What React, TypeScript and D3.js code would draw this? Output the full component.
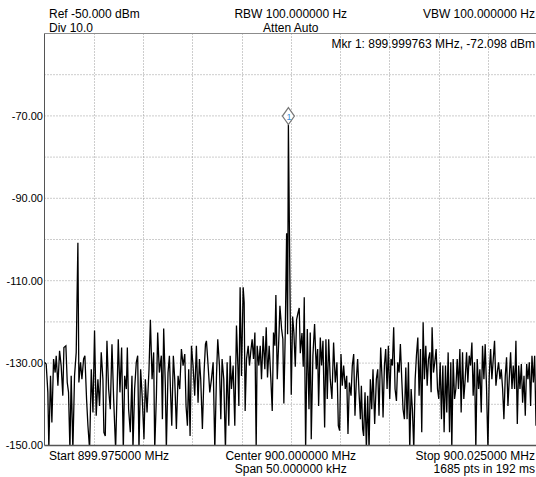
import React, { useEffect, useRef } from 'react';
import * as d3 from 'd3';

// span: 899.975 .. 900.025 MHz, trace positions are kHz from start
const spanKHz = [0, 50];
const levelRange = [-150, -50];
const gridLevels = [-140, -130, -120, -110, -100, -90, -80, -70, -60];
const gridFreqs = [5, 10, 15, 20, 25, 30, 35, 40, 45];
const yLabels = [-70, -90, -110, -130, -150];

const headerTexts = ['Ref -50.000 dBm', 'Div 10.0', 'RBW 100.000000 Hz', 'Atten Auto', 'VBW 100.000000 Hz'];
const footerTexts = ['Start 899.975000 MHz', 'Center 900.000000 MHz', 'Span 50.000000 kHz', 'Stop 900.025000 MHz', '1685 pts in 192 ms'];
const markerLabel = 'Mkr 1: 899.999763 MHz, -72.098 dBm';
const markerKHz = 24.763;
const markerDbm = -72.098;

// [kHz, dBm]
const lowerTrace = [
  [0, -129.8], [0.17, -130.2], [0.34, -137.1], [0.44, -150.5], [0.61, -133.1], [0.75, -144.4], [0.92, -129.0], [1.08, -132.3],
  [1.19, -128.2], [1.36, -135.5], [1.53, -127.0], [1.69, -130.6], [1.86, -137.9], [1.97, -126.2], [2.17, -125.8], [2.31, -134.7],
  [2.44, -137.1], [2.58, -151], [2.71, -133.1], [2.88, -151], [3.05, -133.1], [3.22, -127.4], [3.39, -100.8], [3.49, -134.7],
  [3.66, -129.8], [3.80, -133.9], [3.97, -129.0], [4.10, -128.2], [4.27, -138.7], [4.41, -145.2], [4.58, -151], [4.75, -131.5],
  [4.92, -142.0], [5.08, -122.1], [5.25, -142.8], [5.42, -133.9], [5.59, -140.4], [5.76, -127.4], [5.93, -133.9], [6.03, -146.8],
  [6.17, -147.7], [6.34, -124.6], [6.51, -136.3], [6.68, -141.2], [6.85, -125.4], [7.02, -138.7], [7.22, -151], [7.39, -134.7],
  [7.49, -124.2], [7.66, -137.1], [7.83, -126.2], [8.00, -151], [8.14, -133.1], [8.31, -136.3], [8.41, -126.2], [8.54, -141.2],
  [8.71, -146.8], [8.88, -133.1], [8.98, -151], [9.15, -136.3], [9.32, -129.8], [9.46, -128.2], [9.59, -151], [9.76, -131.5],
  [9.93, -138.7], [10.10, -148.5], [10.24, -133.9], [10.41, -142.0], [10.61, -131.5], [10.75, -119.5], [10.92, -133.9], [11.08, -127.4],
  [11.19, -151], [11.36, -137.9], [11.49, -122.6], [11.66, -132.3], [11.86, -128.2], [11.97, -143.6], [12.10, -121.6], [12.27, -135.5],
  [12.37, -151], [12.54, -132.3], [12.68, -128.2], [12.81, -137.9], [12.92, -145.2], [13.08, -128.2], [13.22, -133.9], [13.39, -146.0],
  [13.56, -133.1], [13.73, -136.3], [13.90, -126.6], [14.07, -130.6], [14.24, -127.8], [14.37, -140.4], [14.51, -145.2], [14.64, -131.5],
  [14.78, -147.7], [14.92, -125.8], [15.08, -130.6], [15.25, -137.9], [15.42, -125.8], [15.59, -139.6], [15.73, -129.0], [15.86, -133.9],
  [16.03, -146.0], [16.20, -132.3], [16.34, -125.4], [16.44, -124.6], [16.61, -130.6], [16.78, -137.1], [16.95, -133.9], [17.12, -129.8],
  [17.29, -151], [17.46, -133.1], [17.59, -124.2], [17.76, -130.6], [17.90, -143.6], [18.03, -129.0], [18.20, -133.9], [18.37, -151],
  [18.54, -129.8], [18.71, -145.2], [18.85, -128.2], [18.98, -136.3], [19.15, -130.6], [19.32, -145.2], [19.49, -120.9], [19.63, -130.6],
  [19.73, -140.4], [19.86, -111.6], [20.00, -133.1], [20.17, -111.6], [20.27, -115.3], [20.37, -141.6], [20.51, -129.0], [20.68, -125.8],
  [20.81, -130.6], [20.95, -127.0], [21.08, -124.2], [21.22, -129.0], [21.36, -122.6], [21.49, -151], [21.59, -125.8], [21.76, -130.6],
  [21.90, -125.8], [22.03, -133.9], [22.20, -123.4], [22.37, -131.5], [22.51, -121.3], [22.64, -133.5], [22.81, -125.8], [22.98, -133.9],
  [23.12, -141.6], [23.25, -122.6], [23.39, -125.8], [23.49, -113.5], [23.63, -133.9], [23.80, -123.4], [23.90, -116.1], [24.07, -121.7],
  [24.20, -124.2],
];

const carrierTrace = [
  [24.30, -139.8], [24.44, -122.8], [24.58, -98.5], [24.68, -123.0], [24.76, -72.1], [24.95, -118.7], [25.05, -137.7], [25.19, -118.7],
  [25.32, -122.7], [25.46, -130.9], [25.59, -119.5], [25.73, -117.9], [25.86, -116.6], [25.97, -127.6], [26.14, -122.7], [26.27, -130.9],
  [26.37, -114.0],
];

const upperTrace = [
  [26.51, -151], [26.68, -121.7], [26.85, -141.2], [26.98, -122.6], [27.08, -148.5], [27.25, -128.2], [27.42, -120.5], [27.59, -131.5],
  [27.73, -126.6], [27.83, -140.4], [28.00, -123.8], [28.13, -130.6], [28.27, -124.6], [28.44, -145.6], [28.57, -124.2], [28.71, -138.7],
  [28.85, -124.2], [29.01, -133.9], [29.18, -138.7], [29.35, -125.0], [29.52, -134.7], [29.69, -129.8], [29.83, -145.2], [29.96, -146.4],
  [30.10, -127.8], [30.23, -135.5], [30.37, -130.6], [30.54, -136.3], [30.68, -133.1], [30.81, -147.2], [30.95, -134.7], [31.12, -137.9],
  [31.25, -130.6], [31.39, -127.8], [31.52, -142.8], [31.66, -133.9], [31.79, -129.0], [31.93, -137.1], [32.07, -143.6], [32.17, -135.5],
  [32.30, -146.0], [32.40, -147.7], [32.54, -137.1], [32.68, -151], [32.81, -137.9], [32.95, -151], [33.08, -133.9], [33.22, -141.2],
  [33.35, -131.5], [33.52, -144.8], [33.69, -133.9], [33.83, -131.5], [33.96, -142.8], [34.13, -126.2], [34.27, -133.9], [34.37, -143.2],
  [34.51, -130.6], [34.64, -126.6], [34.78, -136.3], [34.91, -125.8], [35.05, -138.7], [35.18, -129.0], [35.32, -130.6], [35.45, -121.3],
  [35.59, -136.3], [35.73, -139.2], [35.86, -129.8], [36.00, -132.3], [36.13, -125.4], [36.27, -133.9], [36.40, -141.2], [36.54, -143.6],
  [36.68, -131.1], [36.81, -143.6], [36.95, -129.8], [37.08, -151], [37.22, -136.3], [37.35, -141.2], [37.49, -151], [37.63, -133.9],
  [37.76, -128.2], [37.90, -123.8], [38.03, -137.9], [38.17, -126.6], [38.30, -146.8], [38.44, -120.1], [38.57, -133.9], [38.71, -125.8],
  [38.85, -135.5], [38.98, -129.0], [39.12, -127.4], [39.25, -137.1], [39.35, -121.3], [39.49, -132.3], [39.62, -129.8], [39.76, -126.6],
  [39.90, -136.3], [40.03, -138.7], [40.17, -129.8], [40.30, -143.6], [40.44, -130.6], [40.57, -146.8], [40.71, -130.6], [40.84, -142.0],
  [40.98, -127.4], [41.12, -146.8], [41.25, -129.8], [41.35, -151], [41.49, -129.0], [41.63, -138.7], [41.76, -136.3], [41.90, -129.0],
  [42.03, -136.3], [42.17, -126.6], [42.30, -142.0], [42.44, -127.4], [42.57, -138.7], [42.71, -133.9], [42.85, -127.4], [42.98, -134.7],
  [43.12, -128.2], [43.25, -130.6], [43.39, -125.0], [43.52, -137.9], [43.66, -129.8], [43.79, -151], [43.93, -129.0], [44.07, -136.3],
  [44.20, -131.5], [44.34, -142.0], [44.47, -125.8], [44.61, -133.9], [44.74, -125.4], [44.88, -136.3], [45.02, -151], [45.15, -133.1],
  [45.29, -126.6], [45.42, -133.9], [45.56, -129.0], [45.69, -124.6], [45.83, -135.5], [45.96, -132.3], [46.10, -129.8], [46.24, -133.9],
  [46.37, -131.5], [46.51, -136.3], [46.64, -143.6], [46.78, -133.1], [46.91, -128.6], [47.05, -140.4], [47.18, -133.9], [47.32, -127.4],
  [47.46, -136.3], [47.59, -130.6], [47.73, -136.3], [47.86, -124.6], [48.00, -144.8], [48.14, -130.6], [48.27, -136.3], [48.41, -130.2],
  [48.54, -139.6], [48.68, -133.1], [48.81, -142.8], [48.95, -130.2], [49.08, -133.9], [49.22, -129.8], [49.35, -140.4], [49.49, -128.2],
  [49.63, -134.7], [49.76, -128.2], [49.90, -145.2], [50.00, -133.9],
];

const width = 536;
const height = 477;
const font = '"Liberation Sans", Arial, sans-serif';

const App = () => {
  const svgRef = useRef(null);

  useEffect(() => {
    const svg = d3.select(svgRef.current);
    svg.selectAll('*').remove();

    const left = 44.5, right = 537, top = 33.5, bottom = 445.5;
    const x = d3.scaleLinear().domain(spanKHz).range([left, right]);
    const y = d3.scaleLinear().domain(levelRange).range([bottom, top]);

    svg.append('rect').attr('width', width).attr('height', height).attr('fill', '#fff');

    svg.append('defs').append('clipPath').attr('id', 'plot-clip')
      .append('rect')
      .attr('x', left).attr('y', top)
      .attr('width', right - left).attr('height', bottom - top);

    // dotted grid
    svg.selectAll('.hgrid')
      .data(gridLevels)
      .enter().append('line')
      .attr('x1', left).attr('x2', width)
      .attr('y1', d => y(d)).attr('y2', d => y(d))
      .style('stroke', '#9a9a9a').style('stroke-width', 1).style('stroke-dasharray', '1,2');

    svg.selectAll('.vgrid')
      .data(gridFreqs)
      .enter().append('line')
      .attr('x1', d => Math.round(x(d)) + 0.5).attr('x2', d => Math.round(x(d)) + 0.5)
      .attr('y1', top).attr('y2', bottom)
      .style('stroke', '#9a9a9a').style('stroke-width', 1).style('stroke-dasharray', '1,2');

    // frame
    svg.append('line').attr('x1', left).attr('x2', width).attr('y1', top).attr('y2', top)
      .style('stroke', '#8c8c8c').style('stroke-width', 1);
    svg.append('line').attr('x1', left).attr('x2', left).attr('y1', top).attr('y2', bottom)
      .style('stroke', '#555').style('stroke-width', 1);

    // trace
    const line = d3.line()
      .x(d => x(d[0]))
      .y(d => y(d[1]));
    const trace = [...lowerTrace, ...carrierTrace, ...upperTrace];
    svg.append('path')
      .attr('clip-path', 'url(#plot-clip)')
      .attr('d', line(trace))
      .style('fill', 'none')
      .style('stroke', '#000')
      .style('stroke-width', 1.3)
      .style('stroke-linejoin', 'miter');

    svg.append('line').attr('x1', left).attr('x2', width).attr('y1', bottom).attr('y2', bottom)
      .style('stroke', '#555').style('stroke-width', 1.5);

    // y labels
    svg.selectAll('.ylabel')
      .data(yLabels)
      .enter().append('text')
      .attr('x', left - 1.5)
      .attr('y', d => y(d))
      .attr('dy', '0.35em')
      .style('text-anchor', 'end')
      .style('font-family', font)
      .style('font-size', '11px')
      .text(d => d.toFixed(2));

    // marker
    const mx = x(markerKHz), my = y(markerDbm);
    const mk = svg.append('g').attr('transform', `translate(${mx}, ${my - 8.5})`);
    mk.append('path')
      .attr('d', 'M0,-8.5 L6,0 L0,8.5 L-6,0 Z')
      .style('fill', '#fff').style('stroke', '#777').style('stroke-width', 1.2);
    mk.append('text')
      .attr('x', 0.5).attr('y', 3.5)
      .style('text-anchor', 'middle')
      .style('font-family', font)
      .style('font-size', '9px')
      .style('fill', '#3a8fd8')
      .text('1');

    const addText = (txt, tx, ty, anchor) => {
      svg.append('text')
        .attr('x', tx).attr('y', ty)
        .style('text-anchor', anchor)
        .style('font-family', font)
        .style('font-size', '12px')
        .style('fill', '#000')
        .text(txt);
    };

    const mid = x(25);
    addText(headerTexts[0], 49, 18, 'start');
    addText(headerTexts[1], 49, 31.5, 'start');
    addText(headerTexts[2], mid, 18, 'middle');
    addText(headerTexts[3], mid, 31.5, 'middle');
    addText(headerTexts[4], 535, 18, 'end');
    addText(markerLabel, 535, 48, 'end');

    addText(footerTexts[0], 49, 459.5, 'start');
    addText(footerTexts[1], mid, 459.5, 'middle');
    addText(footerTexts[2], mid, 473, 'middle');
    addText(footerTexts[3], 535, 459.5, 'end');
    addText(footerTexts[4], 535, 473, 'end');
  }, []);

  return (
    <svg ref={svgRef} width={width} height={height}
      style={{ position: 'absolute', left: 0, top: 0, display: 'block' }}></svg>
  );
};

export default App;
